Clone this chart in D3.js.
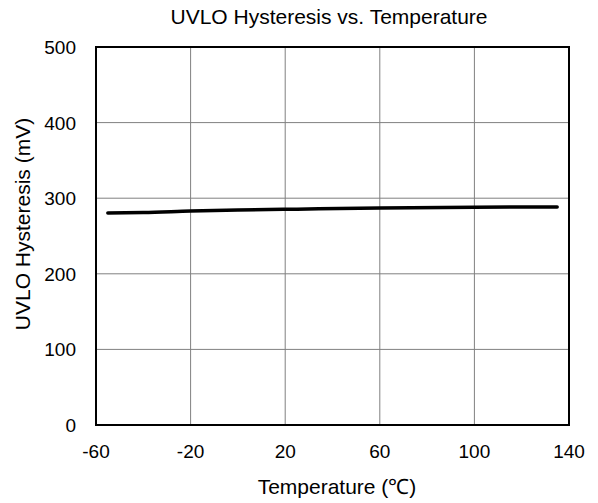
<!DOCTYPE html>
<html>
<head>
<meta charset="utf-8">
<script src="https://cdn.jsdelivr.net/npm/d3@7"></script>
<style>
  body { margin: 0; background: #fff; }
  text { font-family: "Liberation Sans", Arial, sans-serif; fill: #000; }
</style>
</head>
<body>
<svg width="598" height="503"></svg>
<script>
const temps = [-55, -40, -20, 0, 25, 60, 100, 135];
const hysteresis = [280.5, 281, 283, 284.5, 285.5, 287, 288, 288.5];
const xTicks = [-60, -20, 20, 60, 100, 140];
const yTicks = [0, 100, 200, 300, 400, 500];

const svg = d3.select('svg');
const plotLeft = 96, plotRight = 569, plotTop = 47, plotBottom = 425;

const x = d3.scaleLinear().domain([-60, 140]).range([plotLeft, plotRight]);
const y = d3.scaleLinear().domain([0, 500]).range([plotBottom, plotTop]);

// grid
svg.append('g').selectAll('line').data(xTicks.slice(1, -1)).join('line')
    .attr('x1', d => x(d)).attr('x2', d => x(d))
    .attr('y1', plotTop).attr('y2', plotBottom)
    .attr('stroke', '#808080').attr('stroke-width', 1);
svg.append('g').selectAll('line').data(yTicks.slice(1, -1)).join('line')
    .attr('x1', plotLeft).attr('x2', plotRight)
    .attr('y1', d => y(d)).attr('y2', d => y(d))
    .attr('stroke', '#808080').attr('stroke-width', 1);

// frame
svg.append('rect')
    .attr('x', plotLeft).attr('y', plotTop)
    .attr('width', plotRight - plotLeft).attr('height', plotBottom - plotTop)
    .attr('fill', 'none').attr('stroke', '#000').attr('stroke-width', 2);

// tick labels
svg.append('g').selectAll('text').data(xTicks).join('text')
    .attr('x', d => x(d)).attr('y', plotBottom + 33)
    .attr('text-anchor', 'middle').attr('font-size', 19)
    .text(d => d);
svg.append('g').selectAll('text').data(yTicks).join('text')
    .attr('x', plotLeft - 20).attr('y', d => y(d) + 7)
    .attr('text-anchor', 'end').attr('font-size', 19)
    .text(d => d);

// data line
const line = d3.line().curve(d3.curveMonotoneX).x((d, i) => x(temps[i])).y(d => y(d));
svg.append('path')
    .datum(hysteresis)
    .attr('d', line)
    .attr('fill', 'none').attr('stroke', '#000')
    .attr('stroke-width', 3.5).attr('stroke-linecap', 'round');

// titles
svg.append('text')
    .attr('x', 329).attr('y', 24)
    .attr('text-anchor', 'middle').attr('font-size', 21)
    .text('UVLO Hysteresis vs. Temperature');
svg.append('text')
    .attr('x', 337).attr('y', 494)
    .attr('text-anchor', 'middle').attr('font-size', 21)
    .text('Temperature (℃)');
svg.append('text')
    .attr('transform', 'translate(30,224) rotate(-90)')
    .attr('text-anchor', 'middle').attr('font-size', 21)
    .text('UVLO Hysteresis (mV)');
</script>
</body>
</html>
